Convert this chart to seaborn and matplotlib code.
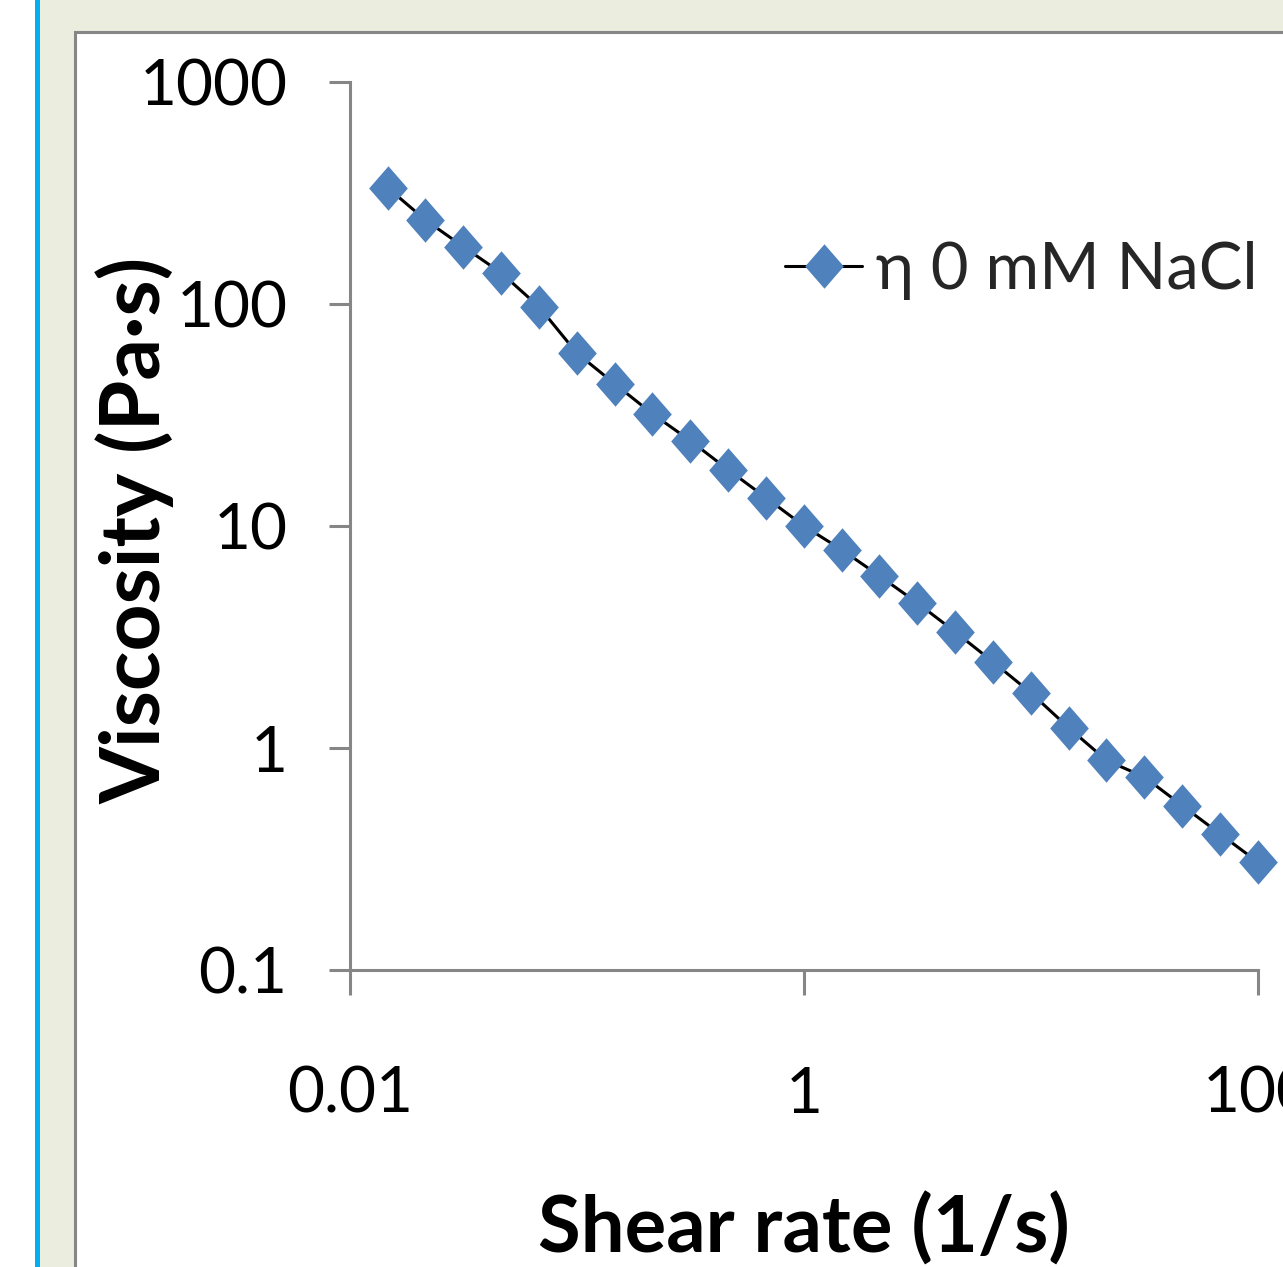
import matplotlib
matplotlib.use("Agg")
import matplotlib.pyplot as plt
import seaborn as sns
from matplotlib.patches import Rectangle
from matplotlib.ticker import FixedLocator, FixedFormatter, NullLocator

# ---- data ----
shear_rate = [0.0147, 0.0215, 0.0316, 0.0464, 0.0681, 0.1, 0.147, 0.215, 0.316, 0.464,
              0.681, 1.0, 1.47, 2.15, 3.16, 4.64, 6.81, 10.0, 14.7, 21.5, 31.6, 46.4, 68.1, 100.0]
viscosity = [333, 239, 181, 138, 97, 60, 43.6, 32, 24.2, 17.9,
             13.4, 10.0, 7.8, 5.96, 4.5, 3.33, 2.44, 1.77, 1.23, 0.88, 0.74, 0.55, 0.41, 0.306]
series_label = "η 0 mM NaCl"
x_ticks = [0.01, 1, 100]
x_tick_labels = ["0.01", "1", "100"]
y_ticks = [0.1, 1, 10, 100, 1000]
y_tick_labels = ["0.1", "1", "10", "100", "1000"]
x_title = "Shear rate (1/s)"
y_title = "Viscosity (Pa·s)"

sns.set_style("white")
plt.rcParams["font.family"] = ["Lato", "DejaVu Sans"]

W, H = 1283, 1267
fig = plt.figure(figsize=(W / 100, H / 100), dpi=100)
fig.patch.set_facecolor("white")

gray = "#868686"
# background decorations
fig.patches.append(Rectangle((40 / W, 0), 1, 1, transform=fig.transFigure,
                             facecolor="#EBEEDF", edgecolor="none", zorder=-10))
fig.patches.append(Rectangle((35 / W, 0), 5 / W, 1, transform=fig.transFigure,
                             facecolor="#00B0F0", edgecolor="none", zorder=-10))
fig.patches.append(Rectangle((75 / W, -0.1), 1, 1.1 - 32 / H, transform=fig.transFigure,
                             facecolor="white", edgecolor=gray, linewidth=2.2, zorder=-9))

ax = fig.add_axes([350 / W, 1 - 970 / H, 908 / W, 888 / H])
ax.set_zorder(5)
ax.set_facecolor("none")

diamond = [(0, 1), (0.87, 0), (0, -1), (-0.87, 0), (0, 1)]
sns.lineplot(x=shear_rate, y=viscosity, ax=ax, color="black", linewidth=2.2,
             marker=diamond, markersize=32, markerfacecolor="#4F81BD",
             markeredgecolor="#4F81BD", markeredgewidth=0, clip_on=False,
             label=series_label, legend=False)

ax.set_xscale("log")
ax.set_yscale("log")
ax.set_xlim(0.01, 100)
ax.set_ylim(0.1, 1000)

ax.xaxis.set_major_locator(FixedLocator(x_ticks))
ax.xaxis.set_major_formatter(FixedFormatter(x_tick_labels))
ax.yaxis.set_major_locator(FixedLocator(y_ticks))
ax.yaxis.set_major_formatter(FixedFormatter(y_tick_labels))
ax.xaxis.set_minor_locator(NullLocator())
ax.yaxis.set_minor_locator(NullLocator())

for s in ["top", "right"]:
    ax.spines[s].set_visible(False)
for s in ["left", "bottom"]:
    ax.spines[s].set_color(gray)
    ax.spines[s].set_linewidth(2.2)

ax.tick_params(axis="y", direction="out", length=15, width=2.2, color=gray,
               pad=30, labelsize=46, labelcolor="black", left=True)
ax.tick_params(axis="x", direction="out", length=18, width=2.2, color=gray,
               pad=51, labelsize=46, labelcolor="black", bottom=True)

ax.set_xlabel(x_title, fontsize=56, fontweight="bold", color="black")
ax.xaxis.set_label_coords(0.5, (970 - 1253) / 888)
ax.xaxis.label.set_va("baseline")
ax.set_ylabel(y_title, fontsize=59, fontweight="bold", color="black")
ax.yaxis.set_label_coords((160 - 350) / 908, (970 - 530) / 888)
ax.yaxis.label.set_va("baseline")

leg = ax.legend(loc="center left", bbox_to_anchor=(785 / W, 1 - 270 / H),
                bbox_transform=fig.transFigure, frameon=False, fontsize=47,
                borderpad=0, borderaxespad=0, handlelength=1.18,
                handletextpad=0.22, numpoints=1)

fig.savefig("out.png", dpi=100)
